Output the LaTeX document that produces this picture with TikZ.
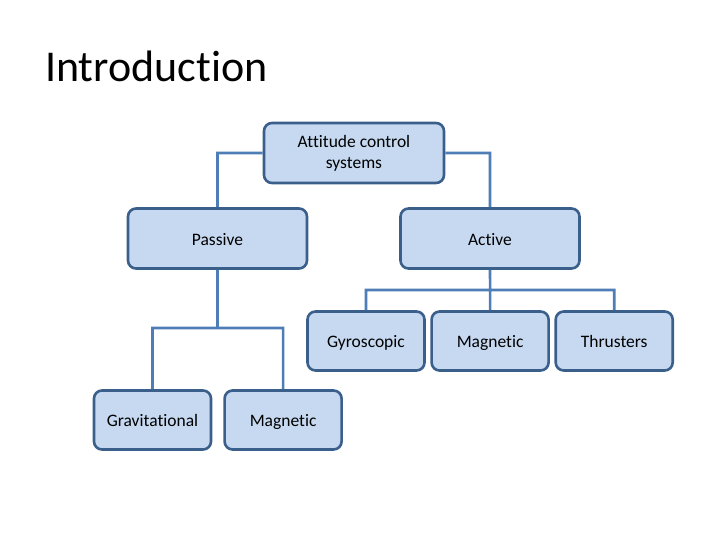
\documentclass[tikz,border=0pt]{standalone}
\usepackage{fontspec}
\setmainfont{Carlito}[Ligatures={NoCommon}]
\usetikzlibrary{positioning,chains}
\definecolor{boxfill}{HTML}{C6D9F1}
\definecolor{boxline}{HTML}{3A5F8B}
\definecolor{linkline}{HTML}{4F7DB5}
\begin{document}
\begin{tikzpicture}[x=1pt,y=-1pt,node distance = 4.5pt,
 sys/.style = {draw=boxline,line width=2.6pt,fill=boxfill,rounded corners=8pt,
   minimum width=179pt,minimum height=60pt,align=center,text=black,
   font=\fontsize{17.5}{21}\selectfont},
 one/.style = {text height=17pt,text depth=4pt},
 leaf/.style = {sys,one,minimum width=117pt,minimum height=59pt},
 link/.style = {draw=linkline,line width=2.6pt},
]
\useasboundingbox (0,0) rectangle (720,540);

\node (title)[anchor=base west,inner sep=0pt,font=\fontsize{44}{50}\selectfont] at (45,82) {Introduction};

\node (acs)[sys,minimum width=180pt] at (354,153) {Attitude control\\systems};
\node (passive)[sys,one] at (217.5,238.5) {Passive};
\node (active)[sys,one] at (490,238.5) {Active};

\begin{scope}[start chain = going right]
\node (gyro)[leaf,on chain] at (366,341) {Gyroscopic};
\node (amag)[leaf,on chain] {Magnetic};
\node (thrust)[leaf,on chain] {Thrusters};
\end{scope}

\node (grav)[leaf] at (152.5,420) {Gravitational};
\node (pmag)[leaf,right=11pt of grav] {Magnetic};

\coordinate (pj) at (217.5,328);
\coordinate (aj) at (amag.north |- 0,290);

\path[link] (acs.west) -| (passive.north)
            (acs.east) -| (active.north)
            (passive.south) -- (pj)
            (grav.north) |- (pj) -| (pmag.north)
            (active.south) -- (aj)
            (gyro.north) |- (aj) -| (thrust.north)
            (aj) -- (amag.north);
\end{tikzpicture}
\end{document}
